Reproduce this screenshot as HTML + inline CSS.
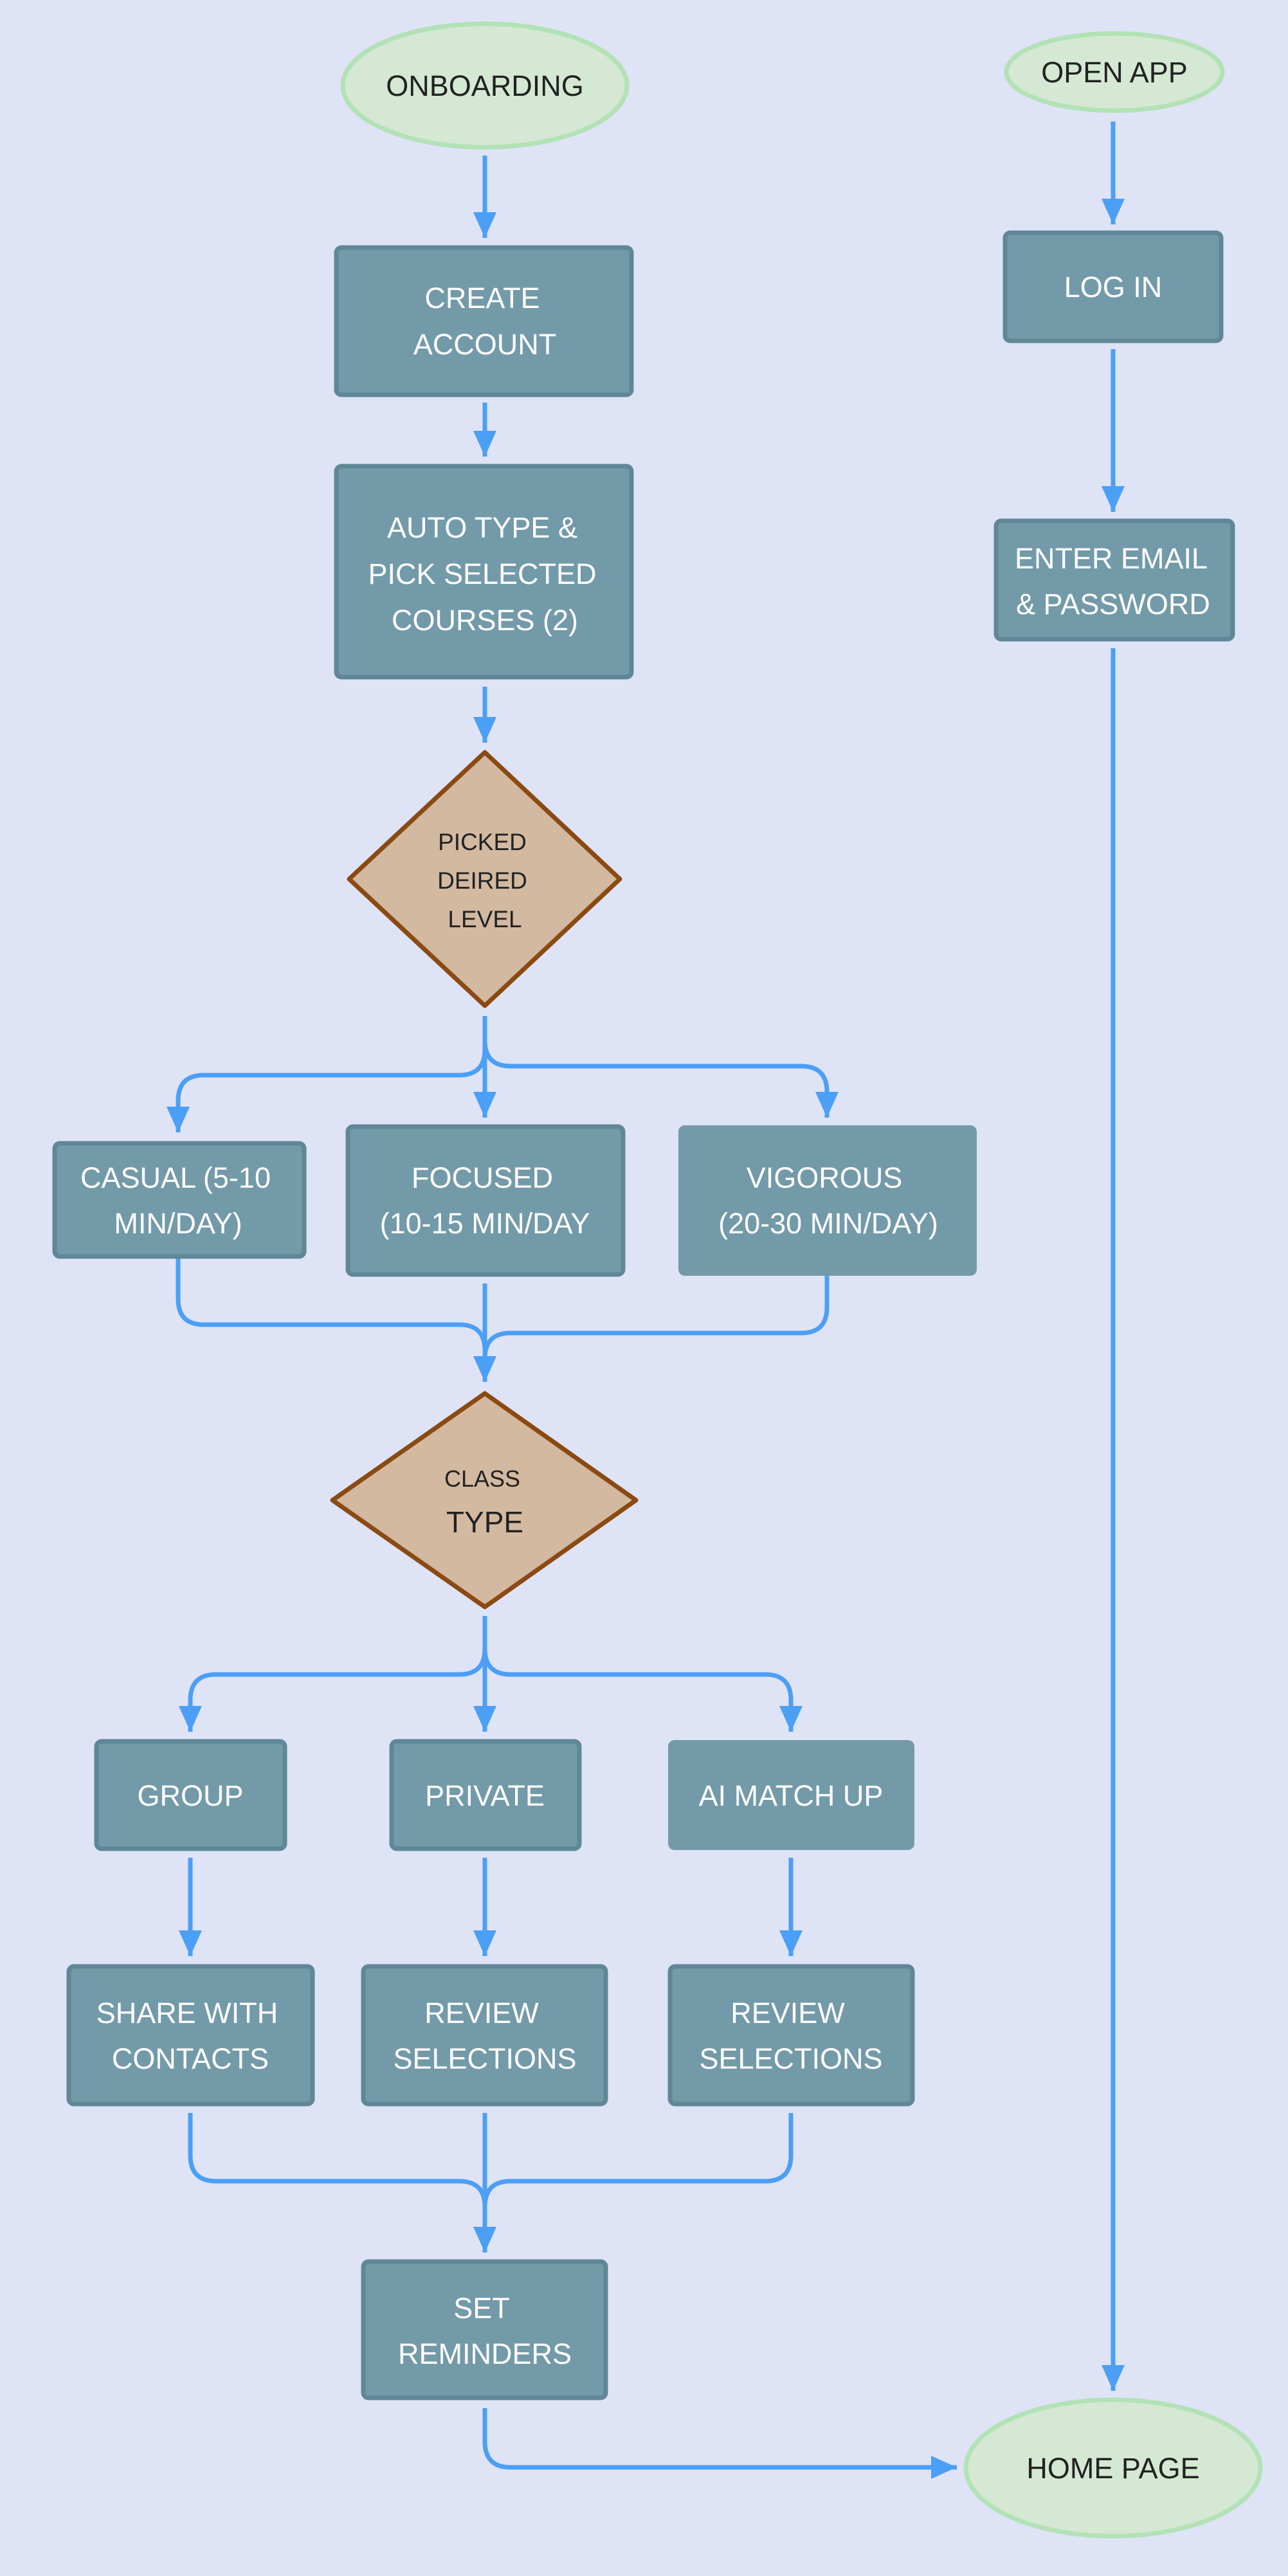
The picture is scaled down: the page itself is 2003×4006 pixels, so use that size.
<!DOCTYPE html>
<html><head><meta charset="utf-8"><style>
html,body{margin:0;padding:0;background:#dfe3f6;}
svg{display:block;}
text{font-family:"Liberation Sans",sans-serif;text-anchor:middle;}
.b{fill:#739aa8;stroke:#5f8797;stroke-width:7;}
.w{fill:#fff;font-size:45px;}
.d{fill:#d2b9a0;stroke:#8a4a12;stroke-width:7;stroke-linejoin:round;}
.e{fill:#d5e8d4;stroke:#b2e2b5;stroke-width:7;}
.k{fill:#222;}
.l{fill:none;stroke:#4b9ff5;stroke-width:7;marker-end:url(#a);}
.n{fill:none;stroke:#4b9ff5;stroke-width:7;}
</style></head><body>
<svg width="2003" height="4006" viewBox="0 0 2003 4006" xmlns="http://www.w3.org/2000/svg">
<defs><marker id="a" markerUnits="userSpaceOnUse" markerWidth="44" markerHeight="40" refX="40" refY="20" orient="auto"><path d="M0,2 L40,20 L0,38 z" fill="#4b9ff5"/></marker></defs>
<rect width="2003" height="4006" fill="#dfe3f6"/>

<!-- connectors -->
<path class="l" d="M754,242 L754,370"/>
<path class="l" d="M754,626 L754,710"/>
<path class="l" d="M754,1068 L754,1155"/>
<path class="l" d="M754,1580 L754,1738"/>
<path class="l" d="M754,1580 L754,1632 Q754,1672 714,1672 L317,1672 Q277,1672 277,1712 L277,1761"/>
<path class="l" d="M754,1600 L754,1618 Q754,1658 794,1658 L1246,1658 Q1286,1658 1286,1698 L1286,1738"/>
<path class="n" d="M277,1956 L277,2020 Q277,2060 317,2060 L714,2060 Q754,2060 754,2100"/>
<path class="n" d="M1286,1984 L1286,2033 Q1286,2073 1246,2073 L794,2073 Q754,2073 754,2113"/>
<path class="l" d="M754,1996 L754,2149"/>
<path class="l" d="M754,2513 L754,2693"/>
<path class="l" d="M754,2513 L754,2564 Q754,2604 714,2604 L336,2604 Q296,2604 296,2644 L296,2693"/>
<path class="l" d="M754,2530 L754,2564 Q754,2604 794,2604 L1190,2604 Q1230,2604 1230,2644 L1230,2693"/>
<path class="l" d="M296,2889 L296,3042"/>
<path class="l" d="M754,2889 L754,3042"/>
<path class="l" d="M1230,2889 L1230,3042"/>
<path class="n" d="M296,3286 L296,3352 Q296,3392 336,3392 L714,3392 Q754,3392 754,3432"/>
<path class="n" d="M1230,3286 L1230,3352 Q1230,3392 1190,3392 L794,3392 Q754,3392 754,3432"/>
<path class="l" d="M754,3286 L754,3503"/>
<path class="l" d="M754,3745 L754,3797 Q754,3837 794,3837 L1488,3837"/>
<path class="l" d="M1731,189 L1731,349"/>
<path class="l" d="M1731,543 L1731,796"/>
<path class="l" d="M1731,1008 L1731,3718"/>

<!-- ellipses -->
<ellipse class="e" cx="754" cy="133" rx="221" ry="96"/>
<text class="k" x="754" y="149" font-size="45">ONBOARDING</text>
<ellipse class="e" cx="1733" cy="112" rx="168" ry="60"/>
<text class="k" x="1733" y="128" font-size="45">OPEN APP</text>
<ellipse class="e" cx="1731" cy="3838" rx="229" ry="106"/>
<text class="k" x="1731" y="3854" font-size="45">HOME PAGE</text>

<!-- boxes -->
<rect class="b" x="523" y="385" width="459" height="229" rx="8"/>
<text class="w" x="750" y="479">CREATE</text><text class="w" x="754" y="551">ACCOUNT</text>
<rect class="b" x="523" y="725" width="459" height="328" rx="8"/>
<text class="w" x="750" y="836">AUTO TYPE &amp;</text><text class="w" x="750" y="908">PICK SELECTED</text><text class="w" x="754" y="980">COURSES (2)</text>
<rect class="b" x="1563" y="362" width="336" height="168" rx="8"/>
<text class="w" x="1731" y="462">LOG IN</text>
<rect class="b" x="1549" y="810" width="368" height="184" rx="8"/>
<text class="w" x="1728" y="884">ENTER EMAIL</text><text class="w" x="1731" y="955">&amp; PASSWORD</text>

<!-- diamond 1 -->
<path class="d" d="M754,1170 L964,1367 L754,1564 L543,1367 Z"/>
<text class="k" x="750" y="1322" font-size="37">PICKED</text>
<text class="k" x="750" y="1382" font-size="37">DEIRED</text>
<text class="k" x="754" y="1442" font-size="37">LEVEL</text>

<rect class="b" x="85" y="1778" width="388" height="176" rx="8"/>
<text class="w" x="273" y="1847">CASUAL (5-10</text><text class="w" x="277" y="1918">MIN/DAY)</text>
<rect class="b" x="541" y="1752" width="428" height="230" rx="8"/>
<text class="w" x="750" y="1847">FOCUSED</text><text class="w" x="754" y="1918">(10-15 MIN/DAY</text>
<rect x="1055" y="1750" width="464" height="234" rx="10" fill="#739aa8"/>
<text class="w" x="1282" y="1847">VIGOROUS</text><text class="w" x="1288" y="1918">(20-30 MIN/DAY)</text>

<!-- diamond 2 -->
<path class="d" d="M754,2167 L989,2333 L754,2499 L517,2333 Z"/>
<text class="k" x="750" y="2312" font-size="36">CLASS</text>
<text class="k" x="754" y="2383" font-size="46">TYPE</text>

<rect class="b" x="150" y="2708" width="293" height="167" rx="8"/>
<text class="w" x="296" y="2808">GROUP</text>
<rect class="b" x="609" y="2708" width="292" height="167" rx="8"/>
<text class="w" x="754" y="2808">PRIVATE</text>
<rect x="1039" y="2706" width="383" height="171" rx="10" fill="#739aa8"/>
<text class="w" x="1230" y="2808">AI MATCH UP</text>

<rect class="b" x="107" y="3058" width="379" height="214" rx="8"/>
<text class="w" x="291" y="3146">SHARE WITH</text><text class="w" x="296" y="3217">CONTACTS</text>
<rect class="b" x="565" y="3058" width="377" height="214" rx="8"/>
<text class="w" x="749" y="3146">REVIEW</text><text class="w" x="754" y="3217">SELECTIONS</text>
<rect class="b" x="1042" y="3058" width="377" height="214" rx="8"/>
<text class="w" x="1225" y="3146">REVIEW</text><text class="w" x="1230" y="3217">SELECTIONS</text>

<rect class="b" x="565" y="3517" width="377" height="212" rx="8"/>
<text class="w" x="749" y="3605">SET</text><text class="w" x="754" y="3676">REMINDERS</text>
</svg>
</body></html>
